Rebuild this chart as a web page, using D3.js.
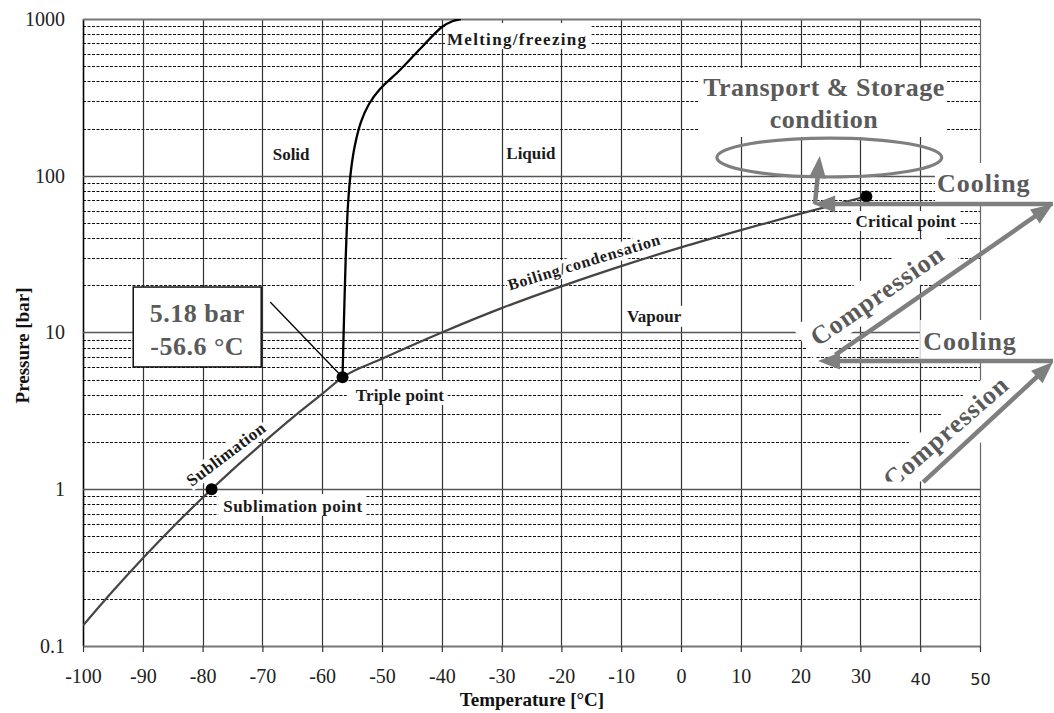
<!DOCTYPE html>
<html>
<head>
<meta charset="utf-8">
<script src="https://cdn.jsdelivr.net/npm/d3@7"></script>
<style>
  body { margin: 0; background: #fff; }
  svg text { font-family: "Liberation Serif", "Times New Roman", serif; }
</style>
</head>
<body>
<div id="chart"></div>
<script>
// Phase boundaries of CO2 (temperature in °C, pressure in bar)
var sublimationTemp = [-100, -95, -90, -85, -80, -78.5, -75, -70, -65, -60, -56.6];
var sublimationPres = [0.135, 0.224, 0.363, 0.573, 0.882, 1.0, 1.33, 1.96, 2.85, 4.06, 5.18];

var boilingTemp = [-56.6, -50, -40, -30, -20, -10, 0, 10, 20, 31];
var boilingPres = [5.18, 6.8, 10.0, 14.3, 19.7, 26.5, 34.9, 45.0, 57.3, 73.8];

var meltingTemp = [-56.6, -56.27, -56.02, -55.69, -55.18, -54.52, -53.51, -52.17, -50.33, -46.99, -43.48, -39.97, -38.13, -36.8];
var meltingPres = [5.18, 16.1, 33.6, 65.1, 108.8, 157.1, 220.3, 286.9, 357.6, 472.7, 653.1, 889.2, 971.0, 1000];

// Marked points
var pointNames = ["Sublimation point", "Triple point", "Critical point"];
var pointTemp = [-78.5, -56.6, 31.0];
var pointPres = [1.0, 5.18, 73.8];

// Axis ticks
var xTicks = [-100, -90, -80, -70, -60, -50, -40, -30, -20, -10, 0, 10, 20, 30, 40, 50];
var xTickLabels = ["-100", "-90", "-80", "-70", "-60", "-50", "-40", "-30", "-20", "-10", "0", "10", "20", "30", "40", "50"];
var yTicks = [0.1, 1, 10, 100, 1000];
var yTickLabels = ["0.1", "1", "10", "100", "1000"];

// Set up the size of the chart
var margin = { top: 19, right: 74, bottom: 67, left: 83 },
    width = 1054 - margin.left - margin.right,
    height = 713 - margin.top - margin.bottom;

var root = d3.select("#chart")
    .append("svg")
    .attr("width", width + margin.left + margin.right)
    .attr("height", height + margin.top + margin.bottom);

var svg = root.append("g")
    .attr("transform", "translate(" + margin.left + "," + margin.top + ")");

var x = d3.scaleLinear().domain([-100, 50]).range([0, width]);
var y = d3.scaleLog().domain([0.1, 1000]).range([height, 0]);

function crisp(v) { return Math.round(v) + 0.5; }

// Minor pressure grid (2..9 in every decade)
var minorP = [];
yTicks.slice(0, -1).forEach(function (d) {
    for (var k = 2; k <= 9; k++) minorP.push(d * k);
});

var grid = svg.append("g");

grid.selectAll("line.minor")
    .data(minorP)
    .enter()
    .append("line")
    .attr("x1", 0).attr("x2", width)
    .attr("y1", function (d) { return crisp(y(d)); })
    .attr("y2", function (d) { return crisp(y(d)); })
    .attr("stroke", "#111")
    .attr("stroke-width", 1)
    .attr("stroke-dasharray", "3,1.5");

grid.selectAll("line.vert")
    .data(xTicks)
    .enter()
    .append("line")
    .attr("x1", function (d) { return crisp(x(d)); })
    .attr("x2", function (d) { return crisp(x(d)); })
    .attr("y1", 0).attr("y2", height)
    .attr("stroke", function (d, i) { return i === 0 ? "#000" : (i === xTicks.length - 1 ? "#666" : "#333"); })
    .attr("stroke-width", function (d, i) { return i === 0 ? 1.6 : 1.2; });

grid.selectAll("line.major")
    .data(yTicks)
    .enter()
    .append("line")
    .attr("x1", 0).attr("x2", width)
    .attr("y1", function (d) { return crisp(y(d)); })
    .attr("y2", function (d) { return crisp(y(d)); })
    .attr("stroke", function (d, i) { return i === 0 || i === yTicks.length - 1 ? "#777" : "#555"; })
    .attr("stroke-width", function (d, i) { return i === 0 || i === yTicks.length - 1 ? 2 : 1.3; });

// Layers: white label backgrounds sit on the grid, then curves, then notes
var bgLayer = svg.append("g");
var curveLayer = svg.append("g");
var noteLayer = svg.append("g");

// Axes
var yAxis = svg.append("g")
    .call(d3.axisLeft(y).tickValues(yTicks).tickSize(0).tickPadding(18)
        .tickFormat(function (d, i) { return yTickLabels[i]; }));
yAxis.select(".domain").remove();
yAxis.selectAll("text")
    .style("font-family", "'Liberation Serif', serif")
    .style("font-size", "20px")
    .attr("fill", "#222");

var xAxis = svg.append("g")
    .attr("transform", "translate(0," + height + ")")
    .call(d3.axisBottom(x).tickValues(xTicks).tickSize(6).tickPadding(17)
        .tickFormat(function (d, i) { return xTickLabels[i]; }));
xAxis.select(".domain").remove();
xAxis.selectAll("line").attr("stroke", "#333").attr("stroke-width", 1.2);
xAxis.selectAll("text")
    .style("font-family", function (d) { return d >= 40 ? "'DejaVu Sans', sans-serif" : "'Liberation Serif', serif"; })
    .style("font-size", function (d) { return d >= 40 ? "16px" : "20px"; })
    .attr("dy", function (d) { return d >= 40 ? "1em" : "0.71em"; })
    .attr("fill", "#222");

// Axis titles
svg.append("text")
    .attr("x", 449)
    .attr("y", height + 60)
    .attr("text-anchor", "middle")
    .style("font-size", "19px")
    .style("font-weight", "bold")
    .attr("fill", "#111")
    .text("Temperature [°C]");

svg.append("text")
    .attr("transform", "translate(-54," + (height / 2 + 13) + ") rotate(-90)")
    .attr("text-anchor", "middle")
    .style("font-size", "19px")
    .style("font-weight", "bold")
    .attr("fill", "#111")
    .text("Pressure [bar]");

// Text label with a white box behind it that hides the grid
function label(txt, T, P, o) {
    o = o || {};
    var tParent = noteLayer, bParent = bgLayer;
    if (o.clip) {
        tParent = noteLayer.append("g").attr("clip-path", "url(#" + o.clip + ")");
        bParent = bgLayer.append("g").attr("clip-path", "url(#" + o.clip + ")");
    }
    var t = tParent.append("text")
        .attr("text-anchor", o.anchor || "middle")
        .style("font-size", (o.size || 17) + "px")
        .style("font-weight", "bold")
        .style("letter-spacing", (o.spacing || 0) + "px")
        .attr("fill", o.color || "#1a1a1a")
        .text(txt);
    var tr = null;
    if (o.angle) {
        tr = "translate(" + x(T) + "," + y(P) + ") rotate(" + o.angle + ")";
        t.attr("transform", tr);
    } else {
        t.attr("x", x(T)).attr("y", y(P));
    }
    if (o.dy) t.attr("dy", o.dy);
    if (o.pad) {
        var p = o.pad, b = t.node().getBBox();
        var r = bParent.append("rect")
            .attr("x", b.x - p[3]).attr("y", b.y - p[0])
            .attr("width", b.width + p[1] + p[3])
            .attr("height", b.height + p[0] + p[2])
            .attr("fill", "#fff");
        if (tr) r.attr("transform", tr);
    }
    return t;
}

// Region and curve labels
label("Melting/freezing", -27.4, 682, { spacing: 1.3, pad: [7, 4, 0, 2] });
label("Solid", -65.2, 126, { pad: [1, 2, 1, 2] });
label("Liquid", -25.1, 128, { pad: [1, 2, 1, 2] });
label("Vapour", -4.5, 11.7, { pad: [1, 2, 1, 2] });
label("Boiling/condensation", -16.2, 28.2, { size: 16, spacing: 0.8, angle: -17, dy: "0.35em", pad: [0, 1, 0, 1] });
label("Sublimation", -76.1, 1.68, { size: 17, spacing: 0.5, angle: -37, dy: "0.35em", pad: [0, 1, 0, 1] });

var pointLabelT = [-64.9, -47.0, 37.6];
var pointLabelP = [0.716, 3.66, 47.1];
var pointPads = [[3, 3, 0, 5], [5, 3, 0, 9], [1, 4, 0, 4]];
pointNames.forEach(function (n, i) {
    label(n, pointLabelT[i], pointLabelP[i], { spacing: i === 0 ? 0.5 : 0.2, pad: pointPads[i] });
});

// Grey annotations
var noteGrey = "#5a5a5a", arrowGrey = "#7f7f7f";

var tA = label("Transport & Storage", 23.9, 322.8, { size: 26, spacing: 0.5, color: noteGrey });
var tB = label("condition", 23.9, 201.6, { size: 26, spacing: 0.5, color: noteGrey });
var bA = tA.node().getBBox(), bB = tB.node().getBBox();
var ux0 = Math.min(bA.x, bB.x) - 5, ux1 = Math.max(bA.x + bA.width, bB.x + bB.width) + 2;
bgLayer.append("rect")
    .attr("x", ux0).attr("y", bA.y - 5)
    .attr("width", ux1 - ux0).attr("height", bB.y + bB.height + 3 - (bA.y - 5))
    .attr("fill", "#fff");

label("Cooling", 42.8, 78.8, { size: 26, spacing: 1, anchor: "start", color: noteGrey, pad: [6, 5, 8, 2] });
label("Cooling", 40.5, 7.73, { size: 26, spacing: 1, anchor: "start", color: noteGrey, pad: [7, 5, 6, 3] });

root.append("defs").append("clipPath").attr("id", "lowClip")
    .append("rect")
    .attr("x", -margin.left).attr("y", -margin.top)
    .attr("width", 1054).attr("height", y(1.12) + margin.top);

label("Compression", 32.9, 17.1, { size: 26, spacing: 1, angle: -34.7, dy: "0.3em", color: noteGrey, pad: [7, 10, 1.5, 10] });
label("Compression", 44.4, 2.3, { size: 26, spacing: 1, angle: -41, dy: "0.3em", color: noteGrey, pad: [2, 12, 16, 12], clip: "lowClip" });

// Clip for the curves
root.select("defs").append("clipPath").attr("id", "plotClip")
    .append("rect").attr("width", width).attr("height", height);

var line = d3.line()
    .x(function (d) { return x(d[0]); })
    .y(function (d) { return y(d[1]); })
    .curve(d3.curveMonotoneX);

curveLayer.append("path")
    .datum(d3.zip(sublimationTemp, sublimationPres).concat(d3.zip(boilingTemp, boilingPres).slice(1)))
    .attr("clip-path", "url(#plotClip)")
    .attr("d", line)
    .attr("fill", "none")
    .attr("stroke", "#444")
    .attr("stroke-width", 2.2);

curveLayer.append("path")
    .datum(d3.zip(meltingTemp, meltingPres))
    .attr("clip-path", "url(#plotClip)")
    .attr("d", line.curve(d3.curveCatmullRom.alpha(0.5)))
    .attr("fill", "none")
    .attr("stroke", "#000")
    .attr("stroke-width", 2.3);

// Triple point call-out box
var boxT = [-91.6, -70.2], boxP = [19.5, 6.03];
curveLayer.append("line")
    .attr("x1", x(-68.7)).attr("y1", y(15.65))
    .attr("x2", x(pointTemp[1])).attr("y2", y(pointPres[1]))
    .attr("stroke", "#000").attr("stroke-width", 1.3);
curveLayer.append("rect")
    .attr("x", x(boxT[0])).attr("y", y(boxP[0]))
    .attr("width", x(boxT[1]) - x(boxT[0]))
    .attr("height", y(boxP[1]) - y(boxP[0]))
    .attr("fill", "#fff").attr("stroke", "#111").attr("stroke-width", 1.5);
label("5.18 bar", -80.9, 11.7, { size: 26, spacing: 0.5, color: noteGrey });
label("-56.6 °C", -80.9, 7.19, { size: 26, spacing: 0.5, color: noteGrey });

// Marked points
curveLayer.selectAll("circle")
    .data(pointTemp)
    .enter()
    .append("circle")
    .attr("cx", function (d) { return x(d); })
    .attr("cy", function (d, i) { return y(pointPres[i]); })
    .attr("r", 6)
    .attr("fill", "#000");

// Storage ellipse
var ellT = [6.0, 43.6], ellP = [174, 98.2];
curveLayer.append("ellipse")
    .attr("cx", (x(ellT[0]) + x(ellT[1])) / 2)
    .attr("cy", (y(ellP[0]) + y(ellP[1])) / 2)
    .attr("rx", (x(ellT[1]) - x(ellT[0])) / 2)
    .attr("ry", (y(ellP[1]) - y(ellP[0])) / 2)
    .attr("fill", "none")
    .attr("stroke", arrowGrey)
    .attr("stroke-width", 3.2);

// Process arrows: [fromT, fromP, toT, toP]
var arrows = [
    [62.2, 66.1, 22.1, 66.1],
    [22.4, 66.1, 23.2, 133.6],
    [25.8, 7.19, 62.2, 66.1],
    [62.2, 6.58, 22.9, 6.58],
    [40.5, 1.11, 62.2, 6.48]
];

arrows.forEach(function (a) {
    var x1 = x(a[0]), y1 = y(a[1]), x2 = x(a[2]), y2 = y(a[3]);
    var dx = x2 - x1, dy = y2 - y1, len = Math.sqrt(dx * dx + dy * dy);
    var ux = dx / len, uy = dy / len, hl = 22, hw = 8.5;
    curveLayer.append("line")
        .attr("x1", x1).attr("y1", y1)
        .attr("x2", x2 - ux * hl * 0.6).attr("y2", y2 - uy * hl * 0.6)
        .attr("stroke", arrowGrey)
        .attr("stroke-width", 4.5);
    curveLayer.append("path")
        .attr("d", "M" + x2 + "," + y2 +
            "L" + (x2 - ux * hl - uy * hw) + "," + (y2 - uy * hl + ux * hw) +
            "L" + (x2 - ux * hl + uy * hw) + "," + (y2 - uy * hl - ux * hw) + "Z")
        .attr("fill", arrowGrey);
});
</script>
</body>
</html>
